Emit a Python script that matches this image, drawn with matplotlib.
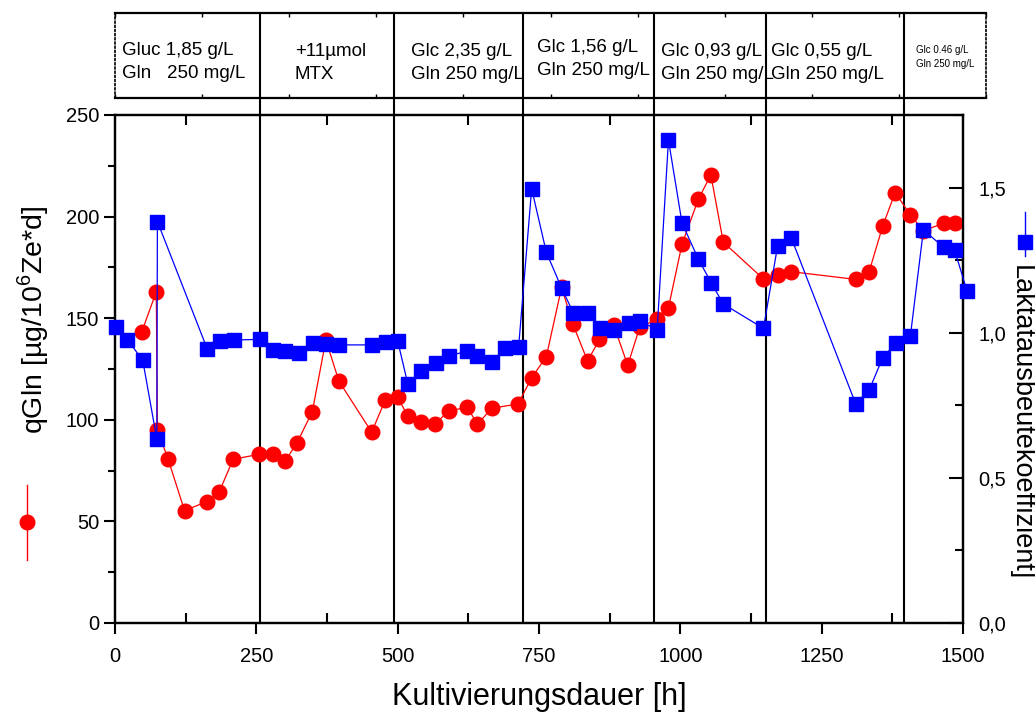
import numpy as np
import matplotlib.pyplot as plt
from matplotlib.lines import Line2D
from matplotlib.ticker import MultipleLocator, FuncFormatter

plt.rcParams['font.family'] = ['Liberation Sans', 'DejaVu Sans']
plt.rcParams['mathtext.fontset'] = 'custom'
plt.rcParams['mathtext.rm'] = 'Liberation Sans'

# qGln [ug/10^6 Ze*d], left axis
t_gln = [47, 73, 75, 94, 123, 162, 184, 209, 255, 280, 301, 322, 349, 373, 396,
         454, 478, 500, 518, 541, 566, 590, 623, 641, 667, 713, 737, 763, 790,
         810, 836, 857, 882, 907, 928, 959, 979, 1003, 1032, 1054, 1076, 1147,
         1172, 1196, 1310, 1334, 1358, 1380, 1407, 1430, 1466, 1485]
q_gln = [143, 163, 95, 80.6, 55.3, 59.7, 64.3, 80.6, 83.0, 83.3, 79.7, 88.7,
         104.0, 139.3, 119.1, 93.9, 109.7, 111.0, 101.9, 99.1, 97.9, 104.3,
         106.2, 97.9, 105.7, 107.8, 120.7, 131.1, 165.2, 147.0, 128.9, 139.6,
         146.7, 126.8, 145.5, 149.5, 155.2, 186.5, 208.6, 220.5, 187.4, 169.3,
         171.3, 172.9, 169.1, 172.9, 195.4, 211.8, 200.8, 193.1, 196.7, 196.7]

# Laktatausbeutekoeffizient, right axis
t_lac = [1, 22, 49, 74, 75, 163, 186, 210, 256, 280, 301, 326, 350, 374, 397,
         455, 479, 500, 518, 542, 567, 591, 623, 641, 667, 690, 714, 737, 763,
         790, 811, 836, 858, 882, 909, 928, 959, 979, 1003, 1032, 1055, 1076,
         1147, 1172, 1196, 1310, 1334, 1358, 1381, 1407, 1430, 1466, 1485, 1507]
y_lac = [1.018, 0.975, 0.906, 0.633, 1.383, 0.945, 0.972, 0.975, 0.977, 0.942,
         0.938, 0.930, 0.964, 0.961, 0.958, 0.958, 0.969, 0.972, 0.823, 0.867,
         0.894, 0.921, 0.936, 0.921, 0.898, 0.949, 0.952, 1.496, 1.277, 1.154,
         1.067, 1.067, 1.016, 1.009, 1.034, 1.041, 1.010, 1.664, 1.378, 1.253,
         1.171, 1.099, 1.015, 1.298, 1.328, 0.756, 0.802, 0.914, 0.964, 0.990,
         1.354, 1.294, 1.285, 1.145]

# culture phases
phase_bounds = [256, 494, 722, 953, 1152, 1396]
phase_text = ['Gluc 1,85 g/L\nGln   250 mg/L', '+11µmol\nMTX',
              'Glc 2,35 g/L\nGln 250 mg/L', 'Glc 1,56 g/L\nGln 250 mg/L',
              'Glc 0,93 g/L\nGln 250 mg/L', 'Glc 0,55 g/L\nGln 250 mg/L',
              'Glc 0.46 g/L\nGln 250 mg/L']
text_x = [12, 318, 523, 747, 965, 1160, 1416]
text_y = [0.42, 0.41, 0.41, 0.46, 0.41, 0.41, 0.48]
text_size = [13.5, 13.5, 13.5, 13.5, 13.5, 13.5, 7]

W, H = 1035, 713
fig = plt.figure(figsize=(W / 100, H / 100), dpi=100)

ax_l, ax_r, ax_b, ax_t = 115 / W, 963 / W, 1 - 623 / H, 1 - 115 / H
ax = fig.add_axes([ax_l, ax_b, ax_r - ax_l, ax_t - ax_b])
ax2 = ax.twinx()

hd_b, hd_t, hd_r = 1 - 97.7 / H, 1 - 13.3 / H, 986 / W
hdr = fig.add_axes([ax_l, hd_b, hd_r - ax_l, hd_t - hd_b])
hdr.set_facecolor('none')

# data
ax.plot(t_gln, q_gln, '-o', color='#ff0000', lw=0.9, ms=10.5, mec='#ff0000',
        clip_on=False, zorder=3)
ax2.plot(t_lac, y_lac, '-s', color='#0000ff', lw=0.9, ms=10, mec='#0000ff',
         clip_on=False, zorder=3)

ax.set_xlim(0, 1500)
ax.set_ylim(0, 250)
ax2.set_ylim(0, 1.75)

# phase dividers through the plot and the header box
ymax = (hd_t - ax_b) / (ax_t - ax_b)
for xb in phase_bounds:
    ax.axvline(xb, ymin=0, ymax=ymax, color='black', lw=1.5, clip_on=False, zorder=2)

for sp in ax.spines.values():
    sp.set_linewidth(1.6)
for sp in ax2.spines.values():
    sp.set_linewidth(1.6)

ax.xaxis.set_major_locator(MultipleLocator(250))
ax.xaxis.set_minor_locator(MultipleLocator(125))
ax.yaxis.set_major_locator(MultipleLocator(50))
ax.yaxis.set_minor_locator(MultipleLocator(25))
ax.tick_params(axis='both', which='major', labelsize=14.5, length=8, width=1.5)
ax.tick_params(axis='both', which='minor', length=5, width=1.5)
ax.tick_params(axis='x', which='major', pad=9)
ax.tick_params(axis='x', which='minor', top=True, direction='in', length=7)
ax.tick_params(axis='x', which='major', top=False)

ax2.yaxis.set_major_locator(MultipleLocator(0.5))
ax2.yaxis.set_minor_locator(MultipleLocator(0.25))
ax2.yaxis.set_major_formatter(FuncFormatter(lambda v, p: f'{v:.1f}'.replace('.', ',')))
ax2.tick_params(axis='y', which='major', direction='in', length=10, width=1.5,
                labelsize=14.5, pad=11)
ax2.tick_params(axis='y', which='minor', direction='in', length=6, width=1.5)

ax.set_xlabel('Kultivierungsdauer [h]', fontsize=22, labelpad=12)

# header box with the feeding conditions
hdr.set_xlim(0, (986 - 115) / (963 - 115) * 1500)
hdr.set_ylim(0, 1)
hdr.set_xticks(np.linspace(0, hdr.get_xlim()[1], 11))
hdr.set_yticks(np.linspace(0, 1, 9))
hdr.tick_params(axis='x', which='both', top=True, bottom=True, direction='in',
                length=3, width=1, labelbottom=False)
hdr.tick_params(axis='y', which='both', left=False, labelleft=False)
for side in ['top', 'bottom']:
    hdr.spines[side].set_linewidth(1.6)
for side in ['left', 'right']:
    hdr.spines[side].set_linewidth(1.2)
    hdr.spines[side].set_linestyle((0, (1, 1.5)))
for txt, xt, yt, fs in zip(phase_text, text_x, text_y, text_size):
    hdr.text(xt, yt, txt, fontsize=fs, ha='left', va='center', linespacing=1.45)

# axis titles with their series symbols
fig.text(33 / W, 1 - 320 / H, r'qGln [µg/10$^{\mathregular{6}}$Ze*d]', fontsize=20.5,
         rotation=90, ha='center', va='center')
fig.add_artist(Line2D([27 / W, 27 / W], [1 - 485 / H, 1 - 560 / H], color='#ff0000',
                      lw=1, transform=fig.transFigure))
fig.add_artist(Line2D([27 / W], [1 - 522 / H], marker='o', ms=10.5, color='#ff0000',
                      transform=fig.transFigure))

fig.text(1021 / W, 1 - 423 / H, 'Laktatausbeutekoeffizient]', fontsize=19.5,
         rotation=-90, ha='center', va='center')
fig.add_artist(Line2D([1025 / W, 1025 / W], [1 - 212 / H, 1 - 256 / H], color='#0000ff',
                      lw=1, transform=fig.transFigure))
fig.add_artist(Line2D([1025 / W], [1 - 242 / H], marker='s', ms=10, color='#0000ff',
                      transform=fig.transFigure))

fig.savefig('out.png', dpi=100)
